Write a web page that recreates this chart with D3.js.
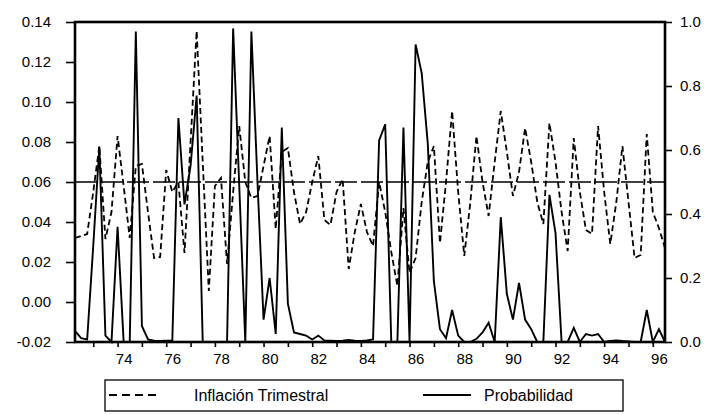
<!DOCTYPE html>
<html>
<head>
<meta charset="utf-8">
<script src="https://cdn.jsdelivr.net/npm/d3@7"></script>
<style>
  body { margin: 0; background: #fff; }
  text { font-family: "Liberation Sans", Arial, Helvetica, sans-serif; fill: #000; }
</style>
</head>
<body>
<svg id="chart"></svg>
<script>
// trimestres desde 1972 T2 hasta 1996 T3
const quarters = d3.range(98).map(i => 1972.25 + i / 4);

// Inflación trimestral (eje izquierdo)
const inflation = [
  0.032, 0.033, 0.034, 0.055, 0.078, 0.0315, 0.045, 0.083, 0.058, 0.032,
  0.068, 0.069, 0.045, 0.022, 0.0225, 0.066, 0.055, 0.060, 0.0245, 0.080,
  0.1355, 0.070, 0.0055, 0.058, 0.062, 0.019, 0.055, 0.088, 0.060, 0.052,
  0.053, 0.068, 0.083, 0.0365, 0.075, 0.077, 0.055, 0.039, 0.045, 0.060,
  0.073, 0.041, 0.0385, 0.055, 0.0615, 0.0165, 0.035, 0.049, 0.035, 0.028,
  0.060, 0.045, 0.025, 0.008, 0.047, 0.0145, 0.022, 0.050, 0.070, 0.078,
  0.0295, 0.060, 0.0955, 0.055, 0.023, 0.050, 0.083, 0.060, 0.043, 0.070,
  0.0955, 0.075, 0.053, 0.065, 0.087, 0.070, 0.050, 0.039, 0.0895, 0.070,
  0.045, 0.0255, 0.082, 0.055, 0.036, 0.034, 0.088, 0.055, 0.029, 0.050,
  0.078, 0.050, 0.022, 0.0235, 0.084, 0.045, 0.037, 0.027
];

// Probabilidad (eje derecho)
const probability = [
  0.035, 0.012, 0.008, 0.30, 0.61, 0.02, 0.0, 0.36, 0.0, 0.0,
  0.97, 0.05, 0.008, 0.004, 0.003, 0.004, 0.005, 0.70, 0.43, 0.55,
  0.77, 0.0, 0.0, 0.0, 0.0, 0.0, 0.98, 0.49, 0.0, 0.97,
  0.50, 0.07, 0.20, 0.025, 0.67, 0.12, 0.03, 0.025, 0.02, 0.008,
  0.02, 0.005, 0.004, 0.003, 0.004, 0.006, 0.004, 0.003, 0.005, 0.008,
  0.63, 0.68, 0.0, 0.0, 0.67, 0.0, 0.93, 0.84, 0.62, 0.19,
  0.04, 0.012, 0.10, 0.02, 0.0, 0.0, 0.01, 0.03, 0.06, 0.0,
  0.39, 0.15, 0.07, 0.185, 0.07, 0.04, 0.0, 0.0, 0.46, 0.34,
  0.0, 0.0, 0.044, 0.0, 0.025, 0.02, 0.025, 0.0, 0.003, 0.005,
  0.003, 0.002, 0.0, 0.0, 0.10, 0.0, 0.04, 0.0
];

const leftTicks = [-0.02, 0.00, 0.02, 0.04, 0.06, 0.08, 0.10, 0.12, 0.14];
const rightTicks = [0.0, 0.2, 0.4, 0.6, 0.8, 1.0];
const yearTicks = d3.range(1973, 1997);
const yearLabels = ["74", "76", "78", "80", "82", "84", "86", "88", "90", "92", "94", "96"];
const threshold = 0.06;
const legendItems = ["Inflación Trimestral", "Probabilidad"];

const width = 706;
const height = 415;
const margin = { top: 22, right: 41, bottom: 73, left: 75 };

const svg = d3.select("#chart")
  .attr("width", width)
  .attr("height", height);

const x = d3.scaleLinear()
  .domain([1972.25, 1996.5])
  .range([margin.left, width - margin.right]);

const yL = d3.scaleLinear()
  .domain([-0.02, 0.14])
  .range([height - margin.bottom, margin.top]);

const yR = d3.scaleLinear()
  .domain([0, 1])
  .range([height - margin.bottom, margin.top]);

// eje izquierdo
const gl = svg.append("g")
  .attr("transform", `translate(${margin.left},0)`)
  .call(d3.axisLeft(yL).tickValues(leftTicks).tickSize(9).tickPadding(15)
    .tickFormat(d => d.toFixed(2)));

// eje derecho
const gr = svg.append("g")
  .attr("transform", `translate(${width - margin.right},0)`)
  .call(d3.axisRight(yR).tickValues(rightTicks).tickSize(7).tickPadding(8)
    .tickFormat(d => d.toFixed(1)));

// marcas anuales
const gb = svg.append("g")
  .attr("transform", `translate(0,${height - margin.bottom})`)
  .call(d3.axisBottom(x).tickValues(yearTicks).tickSize(5).tickFormat(""));

// etiquetas de años
const gy = svg.append("g")
  .attr("transform", `translate(0,${height - margin.bottom})`)
  .call(d3.axisBottom(x)
    .tickValues(yearLabels.map(d => 1900 + (+d) + 0.25))
    .tickSize(0).tickPadding(11)
    .tickFormat((d, i) => yearLabels[i]));

[gl, gr, gb, gy].forEach(g => {
  g.select(".domain").remove();
  g.selectAll("line").attr("stroke", "#000").attr("stroke-width", 1.6);
  g.selectAll("text").style("font-size", "15px").attr("fill", "#000");
});

// línea de referencia
svg.append("line")
  .attr("x1", x(1972.25)).attr("x2", x(1996.5))
  .attr("y1", yL(threshold)).attr("y2", yL(threshold))
  .attr("stroke", "#000")
  .attr("stroke-width", 1.6)
  .attr("stroke-dasharray", "22,4");

const lineL = d3.line()
  .x((d, i) => x(quarters[i]))
  .y(d => yL(d));

const lineR = d3.line()
  .x((d, i) => x(quarters[i]))
  .y(d => yR(d));

svg.append("path")
  .datum(inflation)
  .attr("fill", "none")
  .attr("stroke", "#000")
  .attr("stroke-width", 1.8)
  .attr("stroke-dasharray", "6,3.5")
  .attr("d", lineL);

svg.append("path")
  .datum(probability)
  .attr("fill", "none")
  .attr("stroke", "#000")
  .attr("stroke-width", 1.9)
  .attr("stroke-linejoin", "miter")
  .attr("d", lineR);

// marco
svg.append("rect")
  .attr("x", margin.left)
  .attr("y", margin.top)
  .attr("width", width - margin.left - margin.right)
  .attr("height", height - margin.top - margin.bottom)
  .attr("fill", "none")
  .attr("stroke", "#000")
  .attr("stroke-width", 2.6);

// leyenda
const legend = svg.append("g");
legend.append("rect")
  .attr("x", 105).attr("y", 380)
  .attr("width", 518).attr("height", 31)
  .attr("fill", "none")
  .attr("stroke", "#000")
  .attr("stroke-width", 1.3);

legend.append("line")
  .attr("x1", 109).attr("x2", 158)
  .attr("y1", 395).attr("y2", 395)
  .attr("stroke", "#000").attr("stroke-width", 2)
  .attr("stroke-dasharray", "8,5");

legend.append("text")
  .attr("x", 194).attr("y", 400.5)
  .style("font-size", "16px")
  .text(legendItems[0]);

legend.append("line")
  .attr("x1", 423).attr("x2", 471)
  .attr("y1", 395).attr("y2", 395)
  .attr("stroke", "#000").attr("stroke-width", 1.8);

legend.append("text")
  .attr("x", 484).attr("y", 400.5)
  .style("font-size", "16px")
  .text(legendItems[1]);
</script>
</body>
</html>
